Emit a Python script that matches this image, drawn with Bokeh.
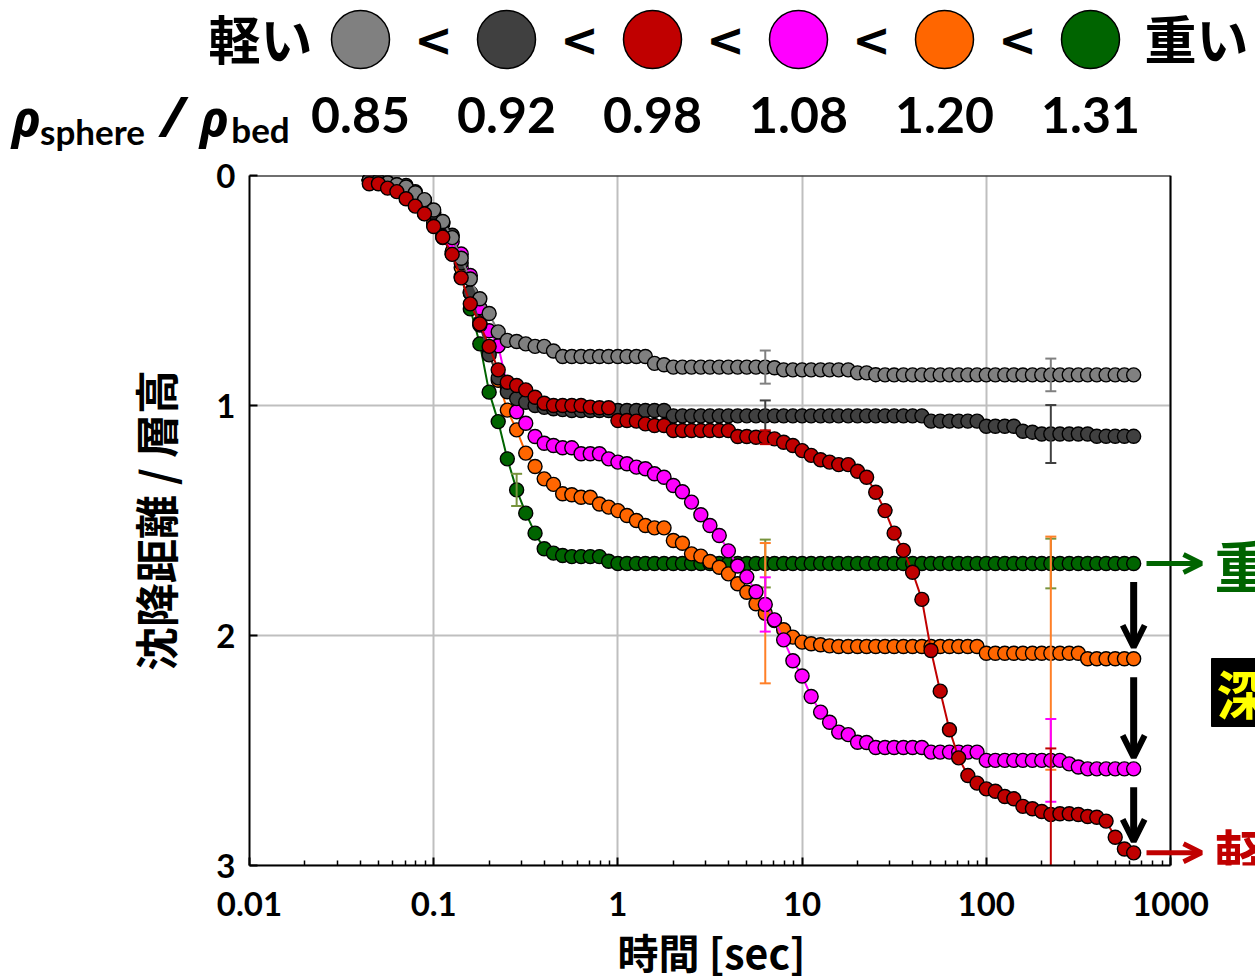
from bokeh.plotting import figure
from bokeh.models import Range1d, FixedTicker, Label, Arrow, OpenHead, CustomJSTickFormatter, Title
from bokeh.layouts import column
from bokeh.embed import file_html
from bokeh.resources import INLINE
from bokeh.core.properties import value

# ---------------- data ----------------
times = [0.0447, 0.0501, 0.0562, 0.0631, 0.0708, 0.0794, 0.0891, 0.100, 0.112, 0.126,
         0.141, 0.158, 0.178, 0.200, 0.224, 0.251, 0.282, 0.316, 0.355, 0.398,
         0.447, 0.501, 0.562, 0.631, 0.708, 0.794, 0.891, 1.00, 1.12, 1.26,
         1.41, 1.58, 1.78, 2.00, 2.24, 2.51, 2.82, 3.16, 3.55, 3.98,
         4.47, 5.01, 5.62, 6.31, 7.08, 7.94, 8.91, 10.0, 11.2, 12.6,
         14.1, 15.8, 17.8, 20.0, 22.4, 25.1, 28.2, 31.6, 35.5, 39.8,
         44.7, 50.1, 56.2, 63.1, 70.8, 79.4, 89.1, 100, 112, 126,
         141, 158, 178, 200, 224, 251, 282, 316, 355, 398,
         447, 501, 562, 631]

gray_085 = [0.020, 0.025, 0.032, 0.040, 0.050, 0.075, 0.105, 0.150, 0.200, 0.270,
            0.360, 0.450, 0.536, 0.600, 0.680, 0.717, 0.722, 0.732, 0.743, 0.743,
            0.763, 0.787, 0.787, 0.787, 0.787, 0.787, 0.787, 0.787, 0.787, 0.787,
            0.787, 0.817, 0.823, 0.833, 0.833, 0.833, 0.833, 0.833, 0.833, 0.833,
            0.833, 0.833, 0.833, 0.833, 0.836, 0.845, 0.845, 0.845, 0.845, 0.845,
            0.845, 0.845, 0.845, 0.858, 0.858, 0.866, 0.867, 0.867, 0.867, 0.867,
            0.867, 0.867, 0.867, 0.867, 0.867, 0.867, 0.867, 0.867, 0.867, 0.867,
            0.867, 0.867, 0.867, 0.867, 0.867, 0.867, 0.867, 0.867, 0.867, 0.867,
            0.867, 0.867, 0.867, 0.867]

dark_092 = [0.020, 0.022, 0.030, 0.040, 0.043, 0.070, 0.110, 0.160, 0.205, 0.260,
            0.380, 0.510, 0.650, 0.780, 0.880, 0.940, 0.970, 0.986, 1.000, 1.008,
            1.014, 1.018, 1.022, 1.022, 1.022, 1.022, 1.022, 1.022, 1.022, 1.022,
            1.022, 1.022, 1.022, 1.045, 1.045, 1.045, 1.045, 1.045, 1.045, 1.045,
            1.045, 1.045, 1.045, 1.045, 1.045, 1.045, 1.045, 1.045, 1.045, 1.045,
            1.045, 1.045, 1.045, 1.045, 1.045, 1.045, 1.045, 1.045, 1.045, 1.045,
            1.045, 1.068, 1.068, 1.068, 1.068, 1.068, 1.068, 1.090, 1.090, 1.090,
            1.090, 1.112, 1.116, 1.124, 1.124, 1.124, 1.124, 1.124, 1.124, 1.134,
            1.134, 1.134, 1.134, 1.134]

red_098 = [0.036, 0.036, 0.055, 0.070, 0.101, 0.133, 0.167, 0.222, 0.268, 0.343,
           0.445, 0.558, 0.645, 0.743, 0.845, 0.899, 0.913, 0.932, 0.964, 0.990,
           1.000, 1.000, 1.000, 1.000, 1.007, 1.010, 1.010, 1.065, 1.065, 1.068,
           1.080, 1.087, 1.087, 1.109, 1.109, 1.109, 1.109, 1.109, 1.109, 1.109,
           1.135, 1.135, 1.138, 1.138, 1.145, 1.160, 1.174, 1.196, 1.217, 1.236,
           1.246, 1.257, 1.257, 1.286, 1.312, 1.377, 1.457, 1.555, 1.630, 1.725,
           1.843, 2.065, 2.242, 2.410, 2.532, 2.609, 2.642, 2.667, 2.677, 2.700,
           2.710, 2.743, 2.753, 2.765, 2.778, 2.775, 2.775, 2.778, 2.787, 2.790,
           2.807, 2.877, 2.928, 2.945]

magenta_108 = [0.020, 0.030, 0.045, 0.058, 0.068, 0.083, 0.116, 0.164, 0.210, 0.287,
               0.341, 0.435, 0.575, 0.675, 0.740, 0.915, 1.027, 1.077, 1.135, 1.164,
               1.174, 1.184, 1.184, 1.210, 1.210, 1.210, 1.232, 1.246, 1.253, 1.268,
               1.275, 1.297, 1.312, 1.348, 1.375, 1.420, 1.475, 1.522, 1.565, 1.632,
               1.698, 1.745, 1.810, 1.865, 1.932, 2.019, 2.110, 2.176, 2.265, 2.333,
               2.377, 2.420, 2.431, 2.464, 2.465, 2.487, 2.487, 2.487, 2.487, 2.487,
               2.487, 2.507, 2.507, 2.507, 2.507, 2.507, 2.507, 2.543, 2.543, 2.543,
               2.543, 2.543, 2.543, 2.543, 2.543, 2.543, 2.558, 2.572, 2.580, 2.580,
               2.580, 2.580, 2.580, 2.580]

orange_120 = [0.020, 0.030, 0.040, 0.055, 0.080, 0.120, 0.160, 0.205, 0.260, 0.330,
              0.400, 0.510, 0.640, 0.770, 0.890, 1.020, 1.106, 1.207, 1.265, 1.319,
              1.343, 1.384, 1.388, 1.399, 1.399, 1.428, 1.442, 1.457, 1.478, 1.500,
              1.522, 1.532, 1.532, 1.587, 1.599, 1.645, 1.655, 1.678, 1.703, 1.732,
              1.775, 1.812, 1.862, 1.903, 1.935, 1.975, 2.007, 2.029, 2.036, 2.040,
              2.045, 2.048, 2.048, 2.048, 2.048, 2.048, 2.048, 2.048, 2.048, 2.048,
              2.048, 2.048, 2.048, 2.048, 2.048, 2.048, 2.048, 2.077, 2.077, 2.077,
              2.077, 2.077, 2.077, 2.077, 2.077, 2.077, 2.077, 2.077, 2.101, 2.101,
              2.101, 2.101, 2.101, 2.101]

green_131 = [0.020, 0.030, 0.045, 0.060, 0.085, 0.120, 0.165, 0.215, 0.270, 0.340,
             0.440, 0.580, 0.732, 0.942, 1.070, 1.232, 1.367, 1.468, 1.555, 1.623,
             1.642, 1.652, 1.657, 1.657, 1.657, 1.657, 1.677, 1.687, 1.687, 1.687,
             1.687, 1.687, 1.687, 1.687, 1.687, 1.687, 1.687, 1.687, 1.687, 1.687,
             1.687, 1.687, 1.687, 1.687, 1.687, 1.687, 1.687, 1.687, 1.687, 1.687,
             1.687, 1.687, 1.687, 1.687, 1.687, 1.687, 1.687, 1.687, 1.687, 1.687,
             1.687, 1.687, 1.687, 1.687, 1.687, 1.687, 1.687, 1.687, 1.687, 1.687,
             1.687, 1.687, 1.687, 1.687, 1.687, 1.687, 1.687, 1.687, 1.687, 1.687,
             1.687, 1.687, 1.687, 1.687]

# error bars (time of the point, half-length)
gray_err_t = [6.31, 224];          gray_err = [0.072, 0.071]
dark_err_t = [6.31, 224];          dark_err = [0.067, 0.126]
red_err_t = [6.31, 224];           red_err = [0.030, 0.287]
magenta_err_t = [6.31, 224];       magenta_err = [0.118, 0.180]
orange_err_t = [6.31, 224];        orange_err = [0.305, 0.507]
green_err_t = [0.282, 6.31, 224];  green_err = [0.070, 0.104, 0.108]

ratios = ["0.85", "0.92", "0.98", "1.08", "1.20", "1.31"]
x_ticks = [0.01, 0.1, 1, 10, 100, 1000]
x_tick_labels = ["0.01", "0.1", "1", "10", "100", "1000"]
y_ticks = [0, 1, 2, 3]
y_tick_labels = ["0", "1", "2", "3"]

# ---------------- styles / layout constants ----------------
C_GRAY, C_DARK, C_RED = "#808080", "#404040", "#C00000"
C_MAG, C_ORA, C_GRN = "#FF00FF", "#FF6600", "#006400"
legend_colors = [C_GRAY, C_DARK, C_RED, C_MAG, C_ORA, C_GRN]

CJK = "Noto Sans CJK JP"
NUM = "Lato"

TOP_H = 154
FRAME_L, FRAME_T, AX_W, FRAME_H = 249, 175, 921, 690
PX_PER_DEC = AX_W / 5.0
FRAME_W = 1255 - FRAME_L          # plot frame runs to the right edge (for the annotations)


def xdata(px):
    return 10 ** (-2 + (px - FRAME_L) / PX_PER_DEC)


def ydata(py):
    return (py - FRAME_T) * 3.0 / FRAME_H


# ---------------- top legend figure ----------------
top = figure(width=1255, height=TOP_H, x_range=Range1d(0, 1255), y_range=Range1d(TOP_H, 0),
             toolbar_location=None, output_backend="svg", x_axis_location=None,
             y_axis_location=None, min_border=0)
top.frame_align = False
top.grid.visible = False
top.outline_line_color = None
top.background_fill_color = "white"
top.border_fill_color = "white"

cx = [360 + 146 * i for i in range(6)]
top.scatter(x=cx, y=[39] * 6, size=58, fill_color=legend_colors, line_color="black", line_width=1.5)
lt_x = [(cx[i] + cx[i + 1]) / 2 for i in range(5)]
top.text(x=lt_x, y=[39] * 5, text=["<"] * 5, text_font=value("DejaVu Sans"), text_font_style="bold",
         text_font_size="46px", text_align="center", text_baseline="middle", text_color="black")
top.text(x=[260, 1196], y=[37, 37], text=["軽い", "重い"], text_font=value(CJK), text_font_style="bold",
         text_font_size="52px", text_align="center", text_baseline="middle", text_color="black")
top.text(x=cx, y=[114] * 6, text=ratios, text_font=value(NUM), text_font_style="bold",
         text_font_size="50px", text_align="center", text_baseline="middle", text_color="black")
# rho_sphere / rho_bed
top.text(x=[26, 214], y=[117, 117], text=["ρ", "ρ"], text_font=value("Noto Sans"),
         text_font_style="bold italic", text_font_size="50px", text_align="center",
         text_baseline="middle", text_color="black")
top.text(x=[92, 260], y=[130, 128], text=["sphere", "bed"], text_font=value(NUM),
         text_font_style="bold", text_font_size="35px", text_align="center",
         text_baseline="middle", text_color="black")
top.text(x=[172], y=[114], text=["/"], text_font=value("Noto Sans"),
         text_font_style="bold italic", text_font_size="56px", text_align="center",
         text_baseline="middle", text_color="black")

# ---------------- main figure ----------------
x_right = xdata(1255)
p = figure(frame_width=FRAME_W, frame_height=FRAME_H, x_axis_type="log",
           x_range=Range1d(x_ticks[0], x_right), y_range=Range1d(y_ticks[-1], y_ticks[0]),
           toolbar_location=None, output_backend="svg",
           min_border_left=FRAME_L, min_border_right=0, min_border_top=FRAME_T - TOP_H,
           min_border_bottom=980 - TOP_H - (FRAME_T - TOP_H) - FRAME_H)
p.background_fill_color = "white"
p.border_fill_color = "white"
p.outline_line_color = None

minor = [m * 10.0 ** e for e in range(-2, 3) for m in range(2, 10)]
p.xaxis.ticker = FixedTicker(ticks=x_ticks, minor_ticks=minor)
p.xaxis.formatter = CustomJSTickFormatter(args=dict(tvals=x_ticks, tlabels=x_tick_labels), code="""
    for (let i = 0; i < tvals.length; i++) {
        if (Math.abs(Math.log10(tick) - Math.log10(tvals[i])) < 1e-6) { return tlabels[i]; }
    }
    return "";
""")
p.xaxis.bounds = (x_ticks[0], x_ticks[-1])
p.yaxis.ticker = FixedTicker(ticks=y_ticks)
p.yaxis.major_label_overrides = {t: l for t, l in zip(y_ticks, y_tick_labels)}

for ax in (p.xaxis, p.yaxis):
    ax.axis_line_width = 2
    ax.axis_line_color = "black"
    ax.major_tick_in = 8
    ax.major_tick_out = 0
    ax.major_tick_line_width = 2
    ax.major_tick_line_color = "black"
    ax.minor_tick_in = 5
    ax.minor_tick_out = 0
    ax.minor_tick_line_width = 1.5
    ax.minor_tick_line_color = "black"
    ax.major_label_text_font = NUM
    ax.major_label_text_font_style = "bold"
    ax.major_label_text_font_size = "33px"
    ax.major_label_text_color = "black"
    ax.axis_label_text_font = CJK
    ax.axis_label_text_font_style = "bold"
    ax.axis_label_text_color = "black"
p.yaxis.minor_tick_line_color = None
p.xaxis.major_label_standoff = 26
p.yaxis.axis_label = "沈降距離 / 層高"
p.yaxis.axis_label_text_font_size = "44px"
p.yaxis.major_label_standoff = 14
p.yaxis.axis_label_standoff = 26

# x-axis title, centred under the 0.01 .. 1000 axis
p.add_layout(Title(text="時間 [sec]", align="left", offset=368, standoff=0,
                   text_font=CJK, text_font_style="bold", text_font_size="41px",
                   text_color="black"), "below")

p.xgrid.grid_line_color = "#BFBFBF"
p.xgrid.grid_line_width = 2
p.ygrid.visible = False
p.segment(x0=[x_ticks[0]] * len(y_ticks), x1=[x_ticks[-1]] * len(y_ticks), y0=y_ticks, y1=y_ticks,
          line_color="#BFBFBF", line_width=2)

series = [
    (green_131, C_GRN, green_err_t, green_err, "#77933C"),
    (orange_120, C_ORA, orange_err_t, orange_err, "#FF7F27"),
    (magenta_108, C_MAG, magenta_err_t, magenta_err, C_MAG),
    (dark_092, C_DARK, dark_err_t, dark_err, C_DARK),
    (gray_085, C_GRAY, gray_err_t, gray_err, C_GRAY),
    (red_098, C_RED, red_err_t, red_err, C_RED),
]
for ys, col, et, ee, ecol in series:
    p.line(times, ys, line_color=col, line_width=2)
    p.scatter(times, ys, size=14, fill_color=col, line_color="black", line_width=1.4)
    yc = [ys[times.index(t)] for t in et]
    lo = [y - e for y, e in zip(yc, ee)]
    hi = [y + e for y, e in zip(yc, ee)]
    p.segment(x0=et, y0=lo, x1=et, y1=hi, line_color=ecol, line_width=2)
    p.scatter(et + et, lo + hi, marker="dash", size=11, line_color=ecol, line_width=2)

# top and right edges of the plot box
p.segment(x0=[x_ticks[0], x_ticks[-1]], x1=[x_ticks[-1], x_ticks[-1]],
          y0=[y_ticks[0], y_ticks[0]], y1=[y_ticks[0], y_ticks[-1]],
          line_color="black", line_width=2)

# ---------------- annotations ----------------
x_end = times[-1]
for y0, y1 in ((green_131[-1], orange_120[-1]), (orange_120[-1], magenta_108[-1]),
               (magenta_108[-1], red_098[-1])):
    p.add_layout(Arrow(end=OpenHead(size=22, line_color="black", line_width=6),
                       x_start=x_end, y_start=y0 + 0.08, x_end=x_end, y_end=y1 - 0.05,
                       line_color="black", line_width=7))

for y, col, txt in ((green_131[-1], C_GRN, "重"), (red_098[-1], C_RED, "軽")):
    p.add_layout(Arrow(end=OpenHead(size=18, line_color=col, line_width=5),
                       x_start=xdata(1146), y_start=y, x_end=xdata(1201), y_end=y,
                       line_color=col, line_width=5))
    p.add_layout(Label(x=xdata(1214), y=y, text=txt, text_font=CJK, text_font_style="bold",
                       text_font_size="56px", text_color=col, text_align="left",
                       text_baseline="middle"))

p.quad(left=[xdata(1211)], right=[xdata(1262)], top=[ydata(658)], bottom=[ydata(726)],
       fill_color="black", line_color="black")
p.add_layout(Label(x=xdata(1216), y=ydata(692), text="深", text_font=CJK, text_font_style="bold",
                   text_font_size="52px", text_color="#FFFF00", text_align="left",
                   text_baseline="middle"))

layout = column(top, p, spacing=0)
open("out.html", "w").write(file_html(layout, INLINE))
